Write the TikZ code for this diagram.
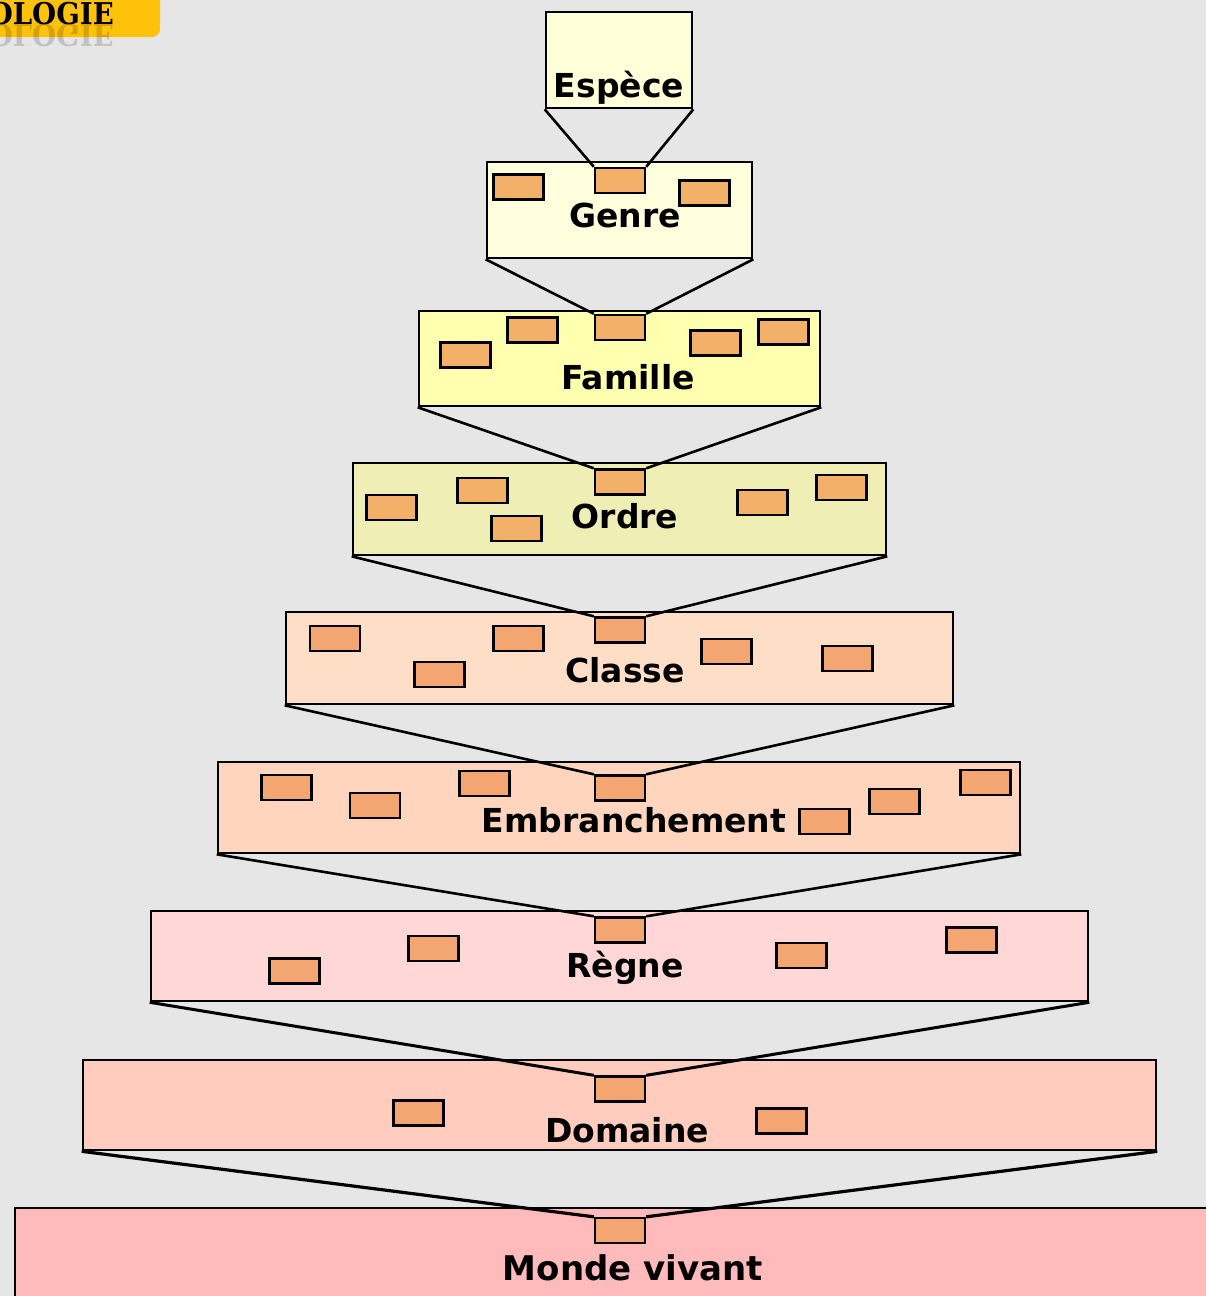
\documentclass[tikz,border=0pt]{standalone}
\usepackage{fontspec}
\setmainfont{DejaVu Sans}
\newfontfamily\logofont{DejaVu Serif}
\definecolor{bgc}{HTML}{E6E6E6}
\definecolor{logoy}{HTML}{FFC20A}
\definecolor{cEsp}{HTML}{FFFFD8}
\definecolor{cGen}{HTML}{FFFFDD}
\definecolor{cFam}{HTML}{FFFFB0}
\definecolor{cOrd}{HTML}{EFEFB5}
\definecolor{cCla}{HTML}{FFDEC8}
\definecolor{cEmb}{HTML}{FFD5BE}
\definecolor{cReg}{HTML}{FFD7D7}
\definecolor{cDom}{HTML}{FFCCBE}
\definecolor{cMon}{HTML}{FFBBBB}
\definecolor{sbA}{HTML}{F3B068}
\definecolor{sbB}{HTML}{F4A672}
\begin{document}
\begin{tikzpicture}[x=1pt,y=-1pt,
  lvl/.style={draw=black, line width=2.6pt, inner sep=0pt, rectangle},
  sb/.style={draw=black, line width=2.4pt, inner sep=0pt, minimum width=50pt, minimum height=25pt, fill=sbA},
  sbl/.style={sb, fill=sbB},
  lbl/.style={font=\bfseries\fontsize{33}{40}\selectfont, inner sep=0pt, anchor=base},
  logotext/.style={font=\logofont\bfseries\fontsize{30}{36}\selectfont, inner sep=0pt, anchor=base east, xscale=0.92},
  fun/.style={line width=2.6pt, line join=round}]
\useasboundingbox (0,0) rectangle (1206,1296);
\fill[bgc] (0,0) rectangle (1206,1296);
% logo
\fill[logoy, rounded corners=8pt] (-20,-20) rectangle (160,37);
\node[logotext] (logo) at (114,24) {OLOGIE};
\begin{scope}
\clip (-20,24) rectangle (200,46);
\node[logotext, yscale=-1, text=black, opacity=0.16] (logor) at (114,24) {OLOGIE};
\end{scope}
% levels
\node[lvl, fill=cEsp, minimum width=146pt, minimum height=96pt] (espece) at (619,60) {};
\node[lvl, fill=cGen, minimum width=265pt, minimum height=96pt] (genre) at (619.5,210) {};
\node[lvl, fill=cFam, minimum width=401pt, minimum height=95pt] (famille) at (619.5,358.5) {};
\node[lvl, fill=cOrd, minimum width=533pt, minimum height=92pt] (ordre) at (619.5,509) {};
\node[lvl, fill=cCla, minimum width=667pt, minimum height=92pt] (classe) at (619.5,658) {};
\node[lvl, fill=cEmb, minimum width=802pt, minimum height=91pt] (embr) at (619,807.5) {};
\node[lvl, fill=cReg, minimum width=937pt, minimum height=90pt] (regne) at (619.5,956) {};
\node[lvl, fill=cDom, minimum width=1073pt, minimum height=90pt] (domaine) at (619.5,1105) {};
\node[lvl, fill=cMon, minimum width=1209pt, minimum height=100pt] (monde) at (619.5,1258) {};
% small boxes
% Genre
\node[sb] (gc) at (620,180.5) {};
\node[sb] (g1) at (518.5,187) {};
\node[sb] (g2) at (704.5,193) {};
% Famille
\node[sb] (fc) at (620,327.5) {};
\node[sb] (f1) at (465.5,355) {};
\node[sb] (f2) at (532.5,330) {};
\node[sb] (f3) at (715.5,343) {};
\node[sb] (f4) at (783.5,332) {};
% Ordre
\node[sb] (oc) at (620,482) {};
\node[sb] (o1) at (391.5,507.5) {};
\node[sb] (o2) at (482.5,490.5) {};
\node[sb] (o3) at (516.5,528.5) {};
\node[sb] (o4) at (762.5,502.5) {};
\node[sb] (o5) at (841.5,487.5) {};
% Classe
\node[sbl] (cc) at (620,630) {};
\node[sbl] (c1) at (335,638.5) {};
\node[sbl] (c2) at (439.5,674.5) {};
\node[sbl] (c3) at (518.5,638.5) {};
\node[sbl] (c4) at (726.5,651.5) {};
\node[sbl] (c5) at (847.5,658.5) {};
% Embranchement
\node[sbl] (ec) at (620,788) {};
\node[sbl] (e1) at (286.5,787.5) {};
\node[sbl] (e2) at (375,805.5) {};
\node[sbl] (e3) at (484.5,783.5) {};
\node[sbl] (e4) at (824.5,821.5) {};
\node[sbl] (e5) at (894.5,801.5) {};
\node[sbl] (e6) at (985.5,782.5) {};
% Regne
\node[sbl] (rc) at (620,930) {};
\node[sbl] (r1) at (294.5,971) {};
\node[sbl] (r2) at (433.5,948.5) {};
\node[sbl] (r3) at (801.5,955.5) {};
\node[sbl] (r4) at (971.5,940) {};
% Domaine
\node[sbl] (dc) at (620,1089) {};
\node[sbl] (d1) at (418.5,1113) {};
\node[sbl] (d2) at (781.5,1121) {};
% Monde
\node[sbl] (mc) at (620,1230.5) {};
% funnels
\draw[fun] (espece.south west) -- (gc.north west) (espece.south east) -- (gc.north east);
\draw[fun] (genre.south west) -- (fc.north west) (genre.south east) -- (fc.north east);
\draw[fun] (famille.south west) -- (oc.north west) (famille.south east) -- (oc.north east);
\draw[fun] (ordre.south west) -- (cc.north west) (ordre.south east) -- (cc.north east);
\draw[fun] (classe.south west) -- (ec.north west) (classe.south east) -- (ec.north east);
\draw[fun] (embr.south west) -- (rc.north west) (embr.south east) -- (rc.north east);
\draw[fun, line width=3pt] (regne.south west) -- (dc.north west) (regne.south east) -- (dc.north east);
\draw[fun, line width=3.2pt] (domaine.south west) -- (mc.north west) (domaine.south east) -- (mc.north east);
% labels
\node[lbl] (tEsp) at (619,97) {Espèce};
\node[lbl] (tGen) at (625,227) {Genre};
\node[lbl] (tFam) at (628,389) {Famille};
\node[lbl] (tOrd) at (625,528) {Ordre};
\node[lbl] (tCla) at (625,682) {Classe};
\node[lbl] (tEmb) at (634,832) {Embranchement};
\node[lbl] (tReg) at (625,977) {Règne};
\node[lbl] (tDom) at (627,1142) {Domaine};
\node[lbl, font=\bfseries\fontsize{34}{40}\selectfont] (tMon) at (633,1280) {Monde vivant};
\end{tikzpicture}
\end{document}
